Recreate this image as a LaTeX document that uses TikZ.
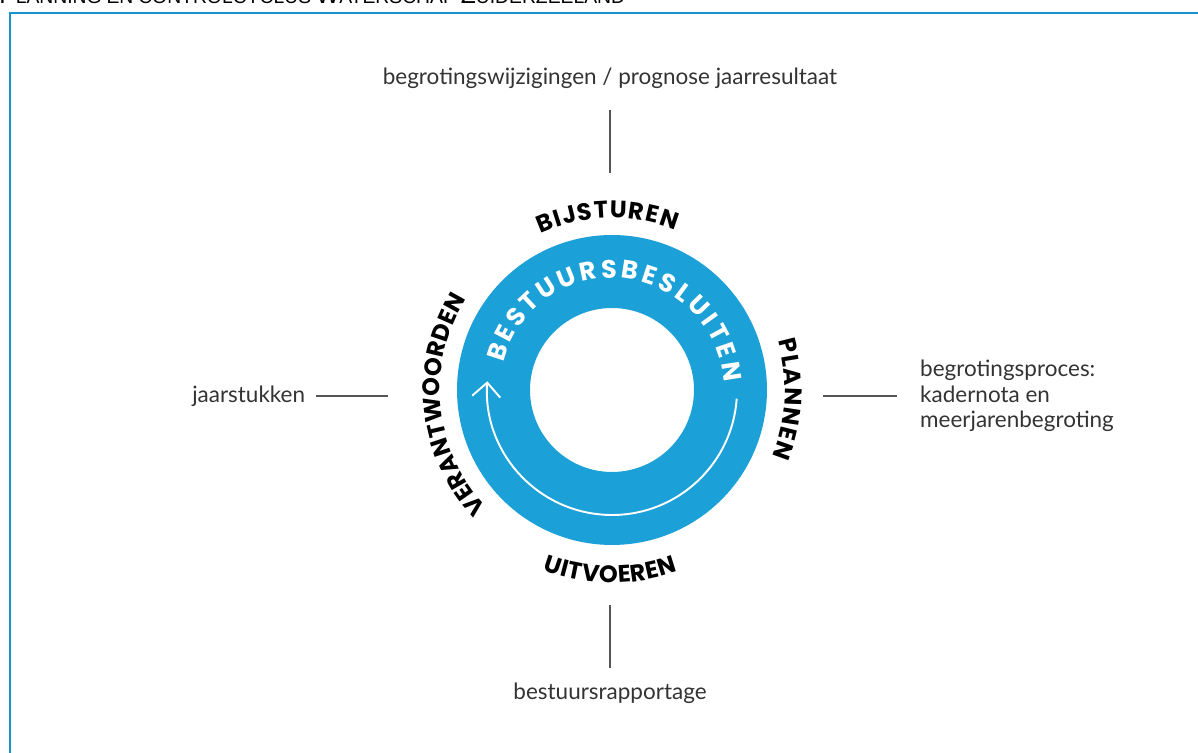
\documentclass[tikz,border=0pt]{standalone}
\usepackage{fontspec}
\setmainfont{Lato}
\newfontfamily\phasefont{Poppins}
\newfontfamily\titlefont{Liberation Sans}
\usetikzlibrary{positioning, arrows.meta, decorations.text}

\definecolor{ringblue}{RGB}{27,160,215}
\definecolor{frameblue}{RGB}{22,148,204}
\definecolor{textgrey}{RGB}{51,51,51}
\definecolor{linegrey}{RGB}{85,85,85}

% small caps by hand: big first letter, smaller rest
\newcommand{\tsc}[2]{{\fontsize{14}{15}\selectfont #1}{\fontsize{11}{15}\selectfont #2}}

\begin{document}
\begin{tikzpicture}[x=0.02cm, y=0.02cm]
    \tikzstyle{every node}=[font=\fontsize{12.8}{14.4}\selectfont]
    \tikzset{
      info/.style={inner sep=0pt, text=textgrey},
      leader/.style={draw=linegrey, line width=0.6pt},
      ringstyle/.style={circle, draw=ringblue, line width=1.46cm, minimum size=4.74cm, inner sep=0pt},
      phase/.style={decorate, decoration={text along path,
          text={|\phasefont\bfseries\fontsize{13.6}{13.6}\selectfont|#1}, text align={fit to path}}},
      inphase/.style={decorate, decoration={text along path,
          text={|\phasefont\bfseries\fontsize{14.5}{14.5}\selectfont\color{white}|#1}, text align={fit to path}}},
      cyclearrow/.style={draw=white, line width=1.1pt, -{Straight Barb[length=8pt, width=16pt]}}
    }
    \useasboundingbox (0,0) rectangle (1198,753);

    % title and frame
    \node[anchor=base west, inner sep=0pt, font=\titlefont] (title) at (-1,749)
      {\tsc{P}{LANNING} \tsc{}{EN} \tsc{}{CONTROLCYCLUS} \tsc{W}{ATERSCHAP} \tsc{Z}{UIDERZEELAND}};
    \draw[frameblue, line width=1.2pt] (10,-10) |- (1210,740);

    % the ring
    \coordinate (C) at (612,363);
    \node[ringstyle] (ring) at (C) {};
    \path[inphase=BESTUURSBESLUITEN] (C) ++(166:112) arc[start angle=166, end angle=4, radius=112];
    \draw[cyclearrow] (C) ++(-4:125) arc[start angle=-4, end angle=-184, radius=125];

    % phases
    \path[phase=BIJSTUREN] (C) ++(114.5:172) arc[start angle=114.5, end angle=68.5, radius=172];
    \path[phase=PLANNEN] (C) ++(16.5:173) arc[start angle=16.5, end angle=-22.5, radius=173];
    \path[phase=UITVOEREN] (C) ++(-111:193) arc[start angle=-111, end angle=-70, radius=193];
    \path[phase=VERANTWOORDEN] (C) ++(223:172) arc[start angle=223, end angle=148, radius=172];

    % leader lines
    \coordinate (topA) at (610,643);
    \coordinate (topB) at (610,580);
    \coordinate (rightA) at (823,357);
    \coordinate (rightB) at (897,357);
    \coordinate (botA) at (610,148);
    \coordinate (botB) at (610,85);
    \coordinate (leftA) at (388,357);
    \coordinate (leftB) at (316,357);
    \draw[leader] (topA) -- (topB);
    \draw[leader] (rightA) -- (rightB);
    \draw[leader] (botA) -- (botB);
    \draw[leader] (leftA) -- (leftB);

    % documents
    \node[info, above = 12pt of topA] (wijz) {begrotingswijzigingen / prognose jaarresultaat};
    \node[info, align=left, right = 13pt of rightB] (begr) {begrotingsproces:\\kadernota en\\meerjarenbegroting};
    \node[info, below = 8.5pt of botB] (rapp) {bestuursrapportage};
    \node[info, left = 6pt of leftB] (jaar) {jaarstukken};
\end{tikzpicture}
\end{document}
